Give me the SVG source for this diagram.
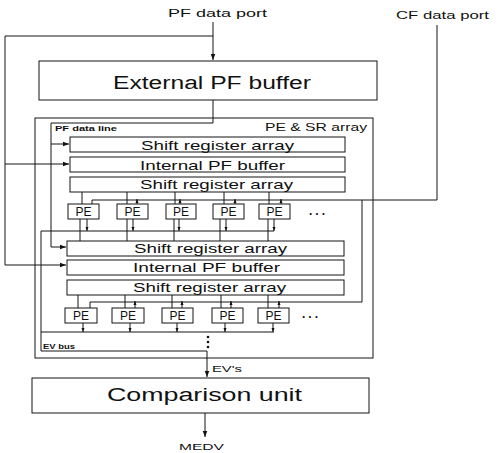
<svg xmlns="http://www.w3.org/2000/svg" width="502" height="453" viewBox="0 0 502 453">
<defs>
<style>
.box{fill:none;stroke:#151515;stroke-width:1}
.ln{fill:none;stroke:#151515;stroke-width:1}
.t{font-family:"Liberation Sans",Arial,sans-serif;fill:#111}
.lbl{font-size:10px}
.big{font-size:18px}
.row{font-size:13px}
.pe{font-size:12px}
.sm{font-size:7px;font-weight:bold}
</style>
<marker id="ah" viewBox="0 0 8 8" refX="8" refY="4" markerWidth="6" markerHeight="6" markerUnits="userSpaceOnUse" orient="auto"><path d="M0,1 L8,4 L0,7 z" fill="#111"/></marker>
<marker id="as" viewBox="0 0 8 8" refX="8" refY="4" markerWidth="4" markerHeight="4" markerUnits="userSpaceOnUse" orient="auto"><path d="M0,1 L8,4 L0,7 z" fill="#111"/></marker>
</defs>
<rect width="502" height="453" fill="#fff"/>

<g id="labels">
<text class="t lbl" x="168" y="17" textLength="99" lengthAdjust="spacingAndGlyphs">PF data port</text>
<text class="t lbl" x="396" y="19" textLength="93" lengthAdjust="spacingAndGlyphs">CF data port</text>
<text class="t" x="212" y="372" font-size="9.5" textLength="30" lengthAdjust="spacingAndGlyphs">EV's</text>
<text class="t" x="179" y="450" font-size="9.5" textLength="45" lengthAdjust="spacingAndGlyphs">MEDV</text>
</g>

<g id="external-pf-buffer">
<rect class="box" x="39" y="61" width="338" height="39"/>
<text class="t big" x="113" y="89" textLength="198" lengthAdjust="spacingAndGlyphs">External PF buffer</text>
</g>

<g id="pe-sr-array">
<rect class="box" x="35" y="118" width="338" height="240"/>
<text class="t" x="265" y="131" font-size="10.5" textLength="102" lengthAdjust="spacingAndGlyphs">PE &amp; SR array</text>
<text class="t sm" x="55" y="131" textLength="62" lengthAdjust="spacingAndGlyphs">PF data line</text>
<text class="t" x="43" y="349" font-size="7.5" font-weight="bold" textLength="32" lengthAdjust="spacingAndGlyphs">EV bus</text>
</g>

<g id="sr-array-1">
<rect class="box" x="70" y="137" width="275" height="15"/>
<text class="t row" x="141" y="150" textLength="153" lengthAdjust="spacingAndGlyphs">Shift register array</text>
</g>
<g id="internal-pf-buffer-1">
<rect class="box" x="70" y="157" width="275" height="15"/>
<text class="t row" x="140" y="170" textLength="145" lengthAdjust="spacingAndGlyphs">Internal PF buffer</text>
</g>
<g id="sr-array-2">
<rect class="box" x="70" y="177" width="275" height="15"/>
<text class="t row" x="140" y="189" textLength="153" lengthAdjust="spacingAndGlyphs">Shift register array</text>
</g>

<g id="pe-row-1">
<rect class="box" x="68" y="204" width="31" height="15"/><text class="t pe" x="83.5" y="216" text-anchor="middle">PE</text>
<rect class="box" x="117" y="204" width="31" height="15"/><text class="t pe" x="132.5" y="216" text-anchor="middle">PE</text>
<rect class="box" x="166" y="204" width="30" height="15"/><text class="t pe" x="181" y="216" text-anchor="middle">PE</text>
<rect class="box" x="213" y="204" width="31" height="15"/><text class="t pe" x="228.5" y="216" text-anchor="middle">PE</text>
<rect class="box" x="259" y="204" width="31" height="15"/><text class="t pe" x="274.5" y="216" text-anchor="middle">PE</text>
<text class="t" x="309" y="215" font-size="12" font-weight="bold" letter-spacing="3">...</text>
</g>

<g id="sr-array-3">
<rect class="box" x="67" y="241" width="277" height="15"/>
<text class="t row" x="134" y="253" textLength="153" lengthAdjust="spacingAndGlyphs">Shift register array</text>
</g>
<g id="internal-pf-buffer-2">
<rect class="box" x="67" y="260" width="277" height="15"/>
<text class="t row" x="133" y="272" textLength="147" lengthAdjust="spacingAndGlyphs">Internal PF buffer</text>
</g>
<g id="sr-array-4">
<rect class="box" x="67" y="280" width="277" height="15"/>
<text class="t row" x="133" y="292" textLength="153" lengthAdjust="spacingAndGlyphs">Shift register array</text>
</g>

<g id="pe-row-2">
<rect class="box" x="65" y="308" width="32" height="15"/><text class="t pe" x="81" y="320" text-anchor="middle">PE</text>
<rect class="box" x="112" y="308" width="32" height="15"/><text class="t pe" x="128" y="320" text-anchor="middle">PE</text>
<rect class="box" x="162" y="308" width="31" height="15"/><text class="t pe" x="177.5" y="320" text-anchor="middle">PE</text>
<rect class="box" x="212" y="308" width="31" height="15"/><text class="t pe" x="227.5" y="320" text-anchor="middle">PE</text>
<rect class="box" x="258" y="308" width="31" height="15"/><text class="t pe" x="273.5" y="320" text-anchor="middle">PE</text>
<text class="t" x="302" y="318" font-size="12" font-weight="bold" letter-spacing="3">...</text>
</g>

<g id="comparison-unit">
<rect class="box" x="32" y="378" width="337" height="35"/>
<text class="t big" x="107" y="401" textLength="195" lengthAdjust="spacingAndGlyphs">Comparison unit</text>
</g>

<g id="connectors" class="ln">
<path d="M213,22 V60" marker-end="url(#ah)"/>
<path d="M213,36 H5 V265 H66" marker-end="url(#ah)"/>
<path d="M5,164 H69" marker-end="url(#ah)"/>
<path d="M213,100 V123 H51 V247 H66" marker-end="url(#ah)"/>
<path d="M51,144 H69" marker-end="url(#ah)"/>
<path d="M437,25 V200 H92 V204"/>
<path d="M362,200 V302 H90 V308"/>
<path d="M137,204 V199" marker-end="url(#as)"/>
<path d="M180,204 V199" marker-end="url(#as)"/>
<path d="M235,204 V199" marker-end="url(#as)"/>
<path d="M281,204 V199" marker-end="url(#as)"/>
<path d="M135,308 V301" marker-end="url(#as)"/>
<path d="M182,308 V301" marker-end="url(#as)"/>
<path d="M231,308 V301" marker-end="url(#as)"/>
<path d="M279,308 V301" marker-end="url(#as)"/>
<path d="M82,192 V204 M127,192 V204 M175,192 V204 M224,192 V204 M269,192 V204"/>
<path d="M78,295 V308 M125,295 V308 M172,295 V308 M221,295 V308 M268,295 V308"/>
<path d="M80,219 V241 M127,219 V241 M174,219 V241 M220,219 V241 M268,219 V241"/>
<path d="M87,219 V231" marker-end="url(#as)"/>
<path d="M133,219 V231" marker-end="url(#as)"/>
<path d="M179,219 V231" marker-end="url(#as)"/>
<path d="M226,219 V231" marker-end="url(#as)"/>
<path d="M274,219 V231" marker-end="url(#as)"/>
<path d="M83,323 V332" marker-end="url(#as)"/>
<path d="M130,323 V332" marker-end="url(#as)"/>
<path d="M177,323 V332" marker-end="url(#as)"/>
<path d="M225,323 V332" marker-end="url(#as)"/>
<path d="M273,323 V332" marker-end="url(#as)"/>
<path d="M41,231 H274"/>
<path d="M41,332 H274"/>
<path d="M41,231 V351 H207"/>
<path d="M207,351 V377" marker-end="url(#ah)"/>
<path d="M205,413 V437" marker-end="url(#ah)"/>
<g fill="#111" stroke="none">
<circle cx="208" cy="337" r="1.3"/>
<circle cx="208" cy="342" r="1.3"/>
<circle cx="208" cy="347" r="1.3"/>
</g>
</g>
</svg>
